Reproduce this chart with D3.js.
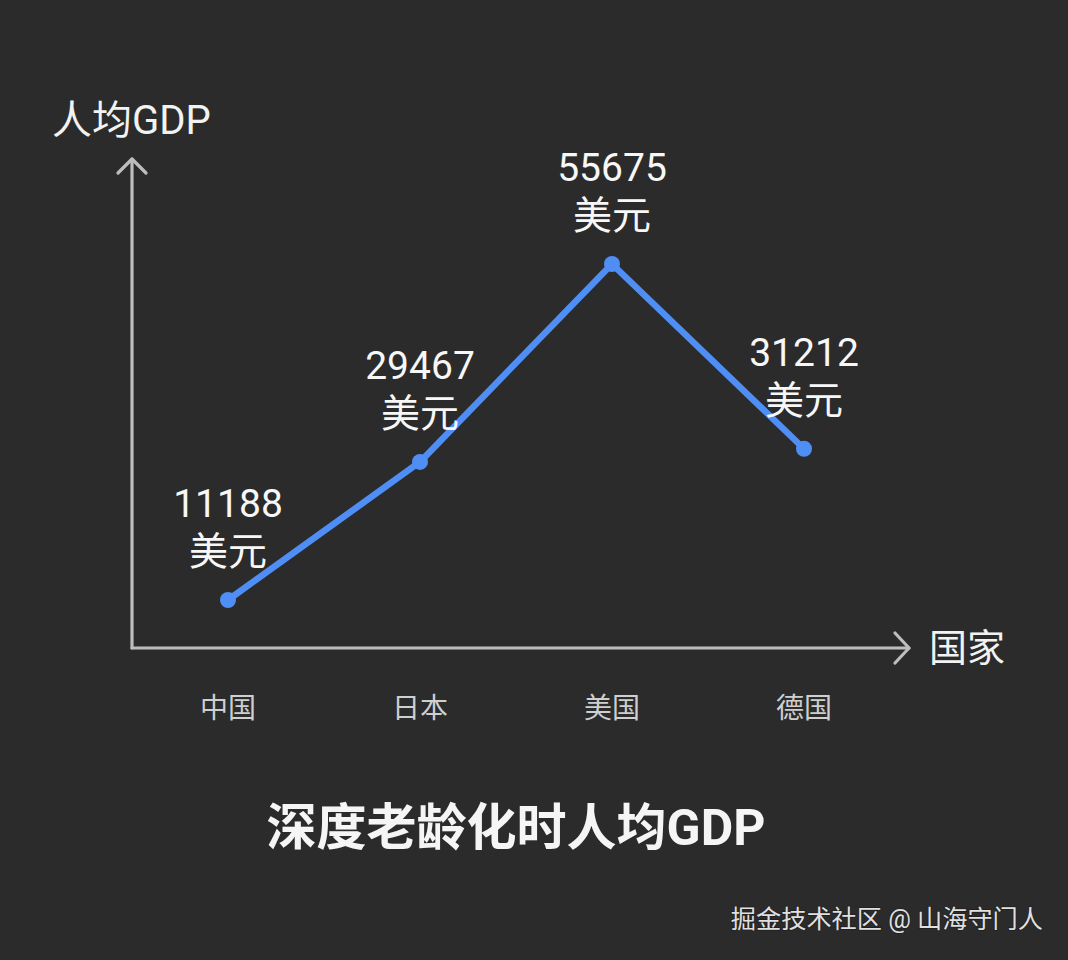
<!DOCTYPE html>
<html>
<head>
<meta charset="utf-8">
<script src="https://cdn.jsdelivr.net/npm/d3@7"></script>
<style>
  html, body { margin: 0; padding: 0; background: #2b2b2b; }
  svg { display: block; }
  text { font-family: Roboto, "Noto Sans CJK SC", sans-serif; }
</style>
</head>
<body>
<svg id="chart" width="1068" height="960"></svg>
<script>
// Per-capita GDP at the onset of deep population ageing (USD)
const countries = ["中国", "日本", "美国", "德国"];
const gdpPerCapita = [11188, 29467, 55675, 31212];
const unitLabel = "美元";
const chartTitle = "深度老龄化时人均GDP";
const yAxisTitle = "人均GDP";
const xAxisTitle = "国家";
const credit = "掘金技术社区 @ 山海守门人";

const W = 1068, H = 960;
const svg = d3.select("#chart");

svg.append("rect").attr("width", W).attr("height", H).attr("fill", "#2b2b2b");

const originX = 132, originY = 648;
const x = d3.scalePoint().domain(countries).range([228, 804]);
const y = d3.scaleLinear().domain([0, 60000]).range([684.5, 231.3]);

const axisColor = "#bdbdbd";
const axes = svg.append("g")
  .attr("fill", "none")
  .attr("stroke", axisColor)
  .attr("stroke-width", 3.2)
  .attr("stroke-linecap", "round")
  .attr("stroke-linejoin", "round");

// vertical axis with open arrowhead
axes.append("line").attr("x1", originX).attr("y1", originY).attr("x2", originX).attr("y2", 159);
axes.append("polyline").attr("points", [[originX - 14, 173], [originX, 159], [originX + 14, 173]].join(" "));
// horizontal axis with open arrowhead
axes.append("line").attr("x1", originX).attr("y1", originY).attr("x2", 909).attr("y2", originY);
axes.append("polyline").attr("points", [[895, originY - 15], [909, originY], [895, originY + 15]].join(" "));

// axis titles
svg.append("text").attr("x", 52).attr("y", 134)
  .attr("font-size", 40).attr("fill", "#f2f2f2").text(yAxisTitle);
svg.append("text").attr("x", 929).attr("y", 661)
  .attr("font-size", 38).attr("fill", "#f2f2f2").text(xAxisTitle);

// category labels
svg.append("g").selectAll("text").data(countries).join("text")
  .attr("x", d => x(d)).attr("y", 718)
  .attr("text-anchor", "middle")
  .attr("font-size", 28).attr("fill", "#cfcfcf")
  .text(d => d);

const data = countries.map((c, i) => ({ c, v: gdpPerCapita[i] }));

// series line
svg.append("path").datum(data)
  .attr("fill", "none")
  .attr("stroke", "#4f8ef5")
  .attr("stroke-width", 6.5)
  .attr("stroke-linejoin", "round")
  .attr("d", d3.line().x(d => x(d.c)).y(d => y(d.v)));

svg.append("g").selectAll("circle").data(data).join("circle")
  .attr("cx", d => x(d.c)).attr("cy", d => y(d.v))
  .attr("r", 8).attr("fill", "#4f8ef5");

// value labels (two lines: number, unit)
const labels = svg.append("g").selectAll("g").data(data).join("g")
  .attr("transform", d => `translate(${x(d.c)},${y(d.v)})`)
  .attr("text-anchor", "middle").attr("fill", "#f7f7f7").attr("font-size", 39);
labels.append("text").attr("y", -83).text(d => d.v);
labels.append("text").attr("y", -35).text(unitLabel);

// chart title
svg.append("text").attr("x", 516).attr("y", 845)
  .attr("text-anchor", "middle")
  .attr("font-size", 50).attr("font-weight", "bold").attr("fill", "#f5f5f5")
  .text(chartTitle);

// credit line
svg.append("text").attr("x", 1043).attr("y", 928)
  .attr("text-anchor", "end")
  .attr("font-size", 25.2).attr("fill", "#e0e0e0")
  .style("paint-order", "stroke")
  .attr("stroke", "#1e1e1e").attr("stroke-width", 1.5)
  .text(credit);
</script>
</body>
</html>
